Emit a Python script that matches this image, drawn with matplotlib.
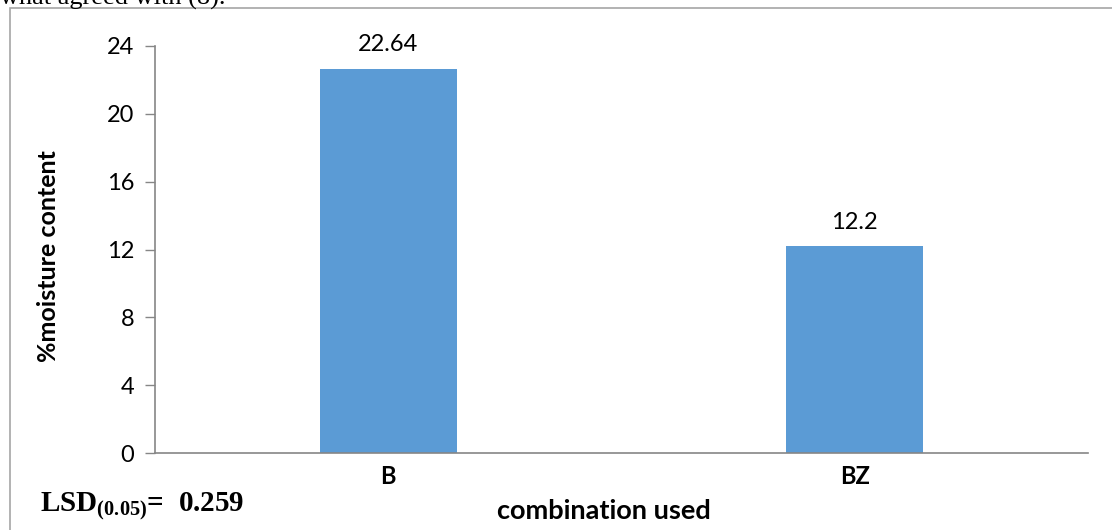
import matplotlib.pyplot as plt
from matplotlib.patches import Rectangle

categories = ["B", "BZ"]
moisture = [22.64, 12.2]
value_labels = ["22.64", "12.2"]
yticks = [0, 4, 8, 12, 16, 20, 24]

plt.rcParams["mathtext.fontset"] = "custom"
plt.rcParams["mathtext.bf"] = "Liberation Serif:bold"
plt.rcParams["mathtext.rm"] = "Liberation Serif"

W, H = 1112, 530
fig = plt.figure(figsize=(W / 100, H / 100), dpi=100)

# outer frame of the chart object (cut off on the right and bottom)
fig.patches.append(Rectangle((10 / W, -0.1), 1.2, 1 - 8 / H + 0.1, transform=fig.transFigure,
                             fill=False, edgecolor="#a6a6a6", linewidth=1.2))
# leftover text from the page above the chart
fig.text(0 / W, 1 - 5 / H, "what agreed with (8).", family="Liberation Serif", fontsize=19,
         va="baseline", ha="left")

ax = fig.add_axes([155 / W, 1 - 453 / H, (1088 - 155) / W, (453 - 46) / H])
x = list(range(len(categories)))
ax.bar(x, moisture, width=0.294, color="#5b9bd5", zorder=2)
for xi, v, lab in zip(x, moisture, value_labels):
    ax.text(xi, v + 0.8, lab, ha="center", va="bottom", family="Lato", fontsize=17)

ax.set_xlim(-0.5, 1.5)
ax.set_ylim(0, 24)
ax.set_yticks(yticks)
ax.set_yticklabels([str(t) for t in yticks], family="Lato", fontsize=17)
ax.set_xticks(x)
ax.set_xticklabels(categories, family="Lato", fontsize=17, fontweight="bold")
ax.tick_params(axis="x", length=0, pad=9)
ax.tick_params(axis="y", length=7, width=1, color="#868686", pad=8)
for s in ["top", "right"]:
    ax.spines[s].set_visible(False)
for s in ["left", "bottom"]:
    ax.spines[s].set_color("#868686")
    ax.spines[s].set_linewidth(1.2)

fig.text(49 / W, 1 - 256 / H, "%moisture content", rotation=90, ha="center", va="center",
         family="Lato", fontsize=18, fontweight="bold")
fig.text(604 / W, 1 - 511 / H, "combination used", ha="center", va="center",
         family="Lato", fontsize=19.5, fontweight="bold")
fig.text(40 / W, 1 - 511 / H, r"LSD$_{\mathbf{(0.05)}}$=  0.259", ha="left", va="baseline",
         family="Liberation Serif", fontsize=21, fontweight="bold")

fig.savefig("out.png", dpi=100)
